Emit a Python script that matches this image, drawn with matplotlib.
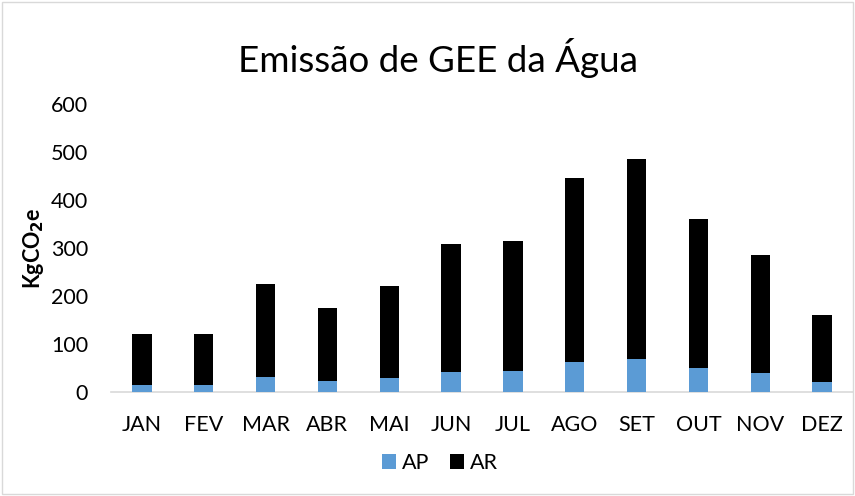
import matplotlib
matplotlib.use("Agg")
import matplotlib.pyplot as plt
from matplotlib.patches import Rectangle
import numpy as np

months = ["JAN", "FEV", "MAR", "ABR", "MAI", "JUN", "JUL", "AGO", "SET", "OUT", "NOV", "DEZ"]
ap = [15, 15, 31, 24, 30, 43, 44, 63, 69, 51, 40, 22]
ar = [106, 106, 194, 152, 192, 266, 271, 383, 416, 309, 247, 139]
yticks = [0, 100, 200, 300, 400, 500, 600]

plt.rcParams['font.family'] = ['Lato', 'DejaVu Sans']

fig = plt.figure(figsize=(8.55, 4.96), dpi=100)
ax = fig.add_axes([111/855, 1 - 392.3/496, (853 - 111)/855, (392.3 - 104.3)/496])

x = np.arange(len(months))
w = 0.31
ax.bar(x, ap, width=w, color="#5B9BD5", label="AP", zorder=3)
ax.bar(x, ar, width=w, bottom=ap, color="#000000", label="AR", zorder=3)

ax.set_xlim(-0.5, len(months) - 0.5)
ax.set_ylim(0, 600)
ax.set_yticks(yticks)
ax.set_yticklabels([str(v) for v in yticks])
ax.set_xticks(x)
ax.set_xticklabels(months)
ax.tick_params(axis='both', length=0, labelsize=15.5, colors="#000000")
ax.tick_params(axis='y', pad=16.5)
ax.tick_params(axis='x', pad=16)
for s in ["top", "right", "left"]:
    ax.spines[s].set_visible(False)
ax.spines["bottom"].set_color("#d9d9d9")
ax.spines["bottom"].set_linewidth(1.2)

fig.text(33/855, 1 - 248/496, "KgCO$_\\mathbf{2}$e", rotation=90, ha="center", va="center",
         fontsize=15.5, fontweight="bold")

fig.text(438/855, 1 - 58/496, "Emissão de GEE da Água", ha="center", va="center", fontsize=26.5)

handles, labels = ax.get_legend_handles_labels()
fig.legend(handles, labels, loc="center", bbox_to_anchor=(440/855, 1 - 463/496), ncol=2,
           frameon=False, fontsize=15.5, handlelength=0.65, handleheight=0.65,
           handletextpad=0.25, columnspacing=1.0)

fig.patches.append(Rectangle((2/855, 2/496), 851/855, 492/496, transform=fig.transFigure,
                             fill=False, edgecolor="#d9d9d9", linewidth=1.0))

fig.savefig("out.png", dpi=100)
